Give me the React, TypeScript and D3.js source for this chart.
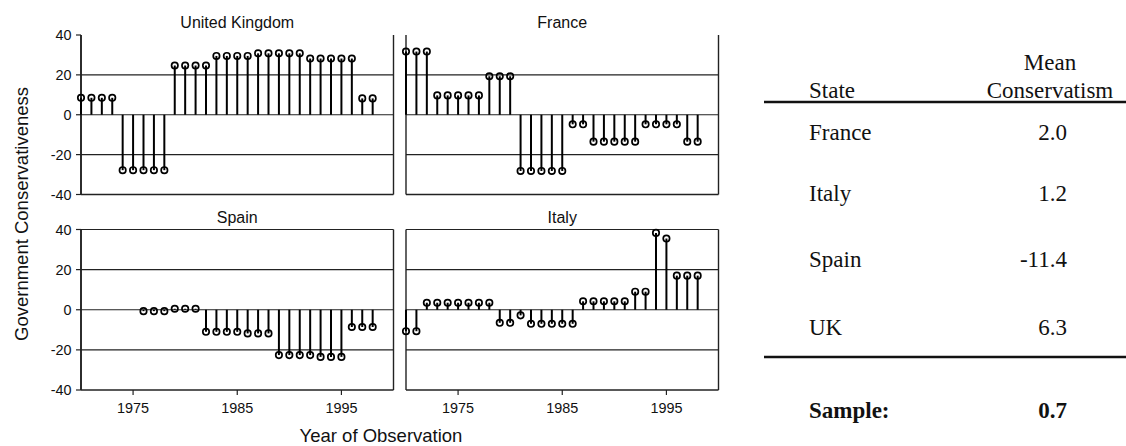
import React from "react";
import * as d3 from "d3";

// ---- data ----
const ukYears = d3.range(1970, 1999);
const ukValues = [8.5, 8.5, 8.5, 8.5, -27.8, -27.8, -27.8, -27.8, -27.8, 24.7, 24.7, 24.7, 24.7, 29.5, 29.5, 29.5, 29.5, 30.8, 30.8, 30.8, 30.8, 30.8, 28.2, 28.2, 28.2, 28.2, 28.2, 8.2, 8.2];

const franceYears = d3.range(1970, 1999);
const franceValues = [31.7, 31.7, 31.7, 9.7, 9.7, 9.7, 9.7, 9.7, 19.3, 19.3, 19.3, -28.2, -28.2, -28.2, -28.2, -28.2, -4.8, -4.8, -13.5, -13.5, -13.5, -13.5, -13.5, -4.8, -4.8, -4.8, -4.8, -13.5, -13.5];

const spainYears = d3.range(1976, 1999);
const spainValues = [-0.7, -0.7, -0.7, 0.5, 0.5, 0.5, -11, -11, -11, -11, -11.8, -11.8, -11.8, -22.6, -22.6, -22.6, -22.6, -23.5, -23.5, -23.5, -8.6, -8.6, -8.6];

const italyYears = d3.range(1970, 1999);
const italyValues = [-10.7, -10.7, 3.5, 3.5, 3.5, 3.5, 3.5, 3.5, 3.5, -6.5, -6.5, -2.8, -7, -7, -7, -7, -7, 4.2, 4.2, 4.2, 4.2, 4.2, 9, 9, 38.3, 35.5, 17, 17, 17];

const xTicks = [1975, 1985, 1995];
const yTicks = [40, 20, 0, -20, -40];

const tableStates = ["France", "Italy", "Spain", "UK"];
const tableMeans = ["2.0", "1.2", "-11.4", "6.3"];
const sampleLabel = "Sample:";
const sampleMean = "0.7";

// ---- layout ----
const W = 1126;
const H = 446;
const colX: [number, number][] = [[81, 393.5], [406, 718.5]];
const rowY: [number, number][] = [[35, 194.5], [229.5, 390]];

const panels = [
  { title: "United Kingdom", years: ukYears, values: ukValues, col: 0, row: 0 },
  { title: "France", years: franceYears, values: franceValues, col: 1, row: 0 },
  { title: "Spain", years: spainYears, values: spainValues, col: 0, row: 1 },
  { title: "Italy", years: italyYears, values: italyValues, col: 1, row: 1 },
];

const SANS = "'Liberation Sans', Arial, Helvetica, sans-serif";
const SERIF = "'Liberation Serif', 'Times New Roman', Times, serif";
const LINE = "#222";

function Panel({ p }: { p: (typeof panels)[number] }) {
  const [x0, x1] = colX[p.col];
  const [y0, y1] = rowY[p.row];
  const x = d3.scaleLinear().domain([1970, 2000]).range([x0, x1]);
  const y = d3.scaleLinear().domain([40, -40]).range([y0, y1]);
  const grid = p.row === 0 ? [20, 0, -20] : [40, 20, 0, -20];
  return (
    <g>
      <text x={(x0 + x1) / 2} y={p.row === 0 ? 28 : 223} textAnchor="middle" fontFamily={SANS} fontSize={16} fill="#111">
        {p.title}
      </text>
      {grid.map((g) => (
        <line key={g} x1={x0} x2={x1} y1={y(g)} y2={y(g)} stroke={LINE} strokeWidth={1.2} />
      ))}
      <line x1={x0} x2={x1} y1={y(-40)} y2={y(-40)} stroke={LINE} strokeWidth={1.6} />
      <line x1={x1} x2={x1} y1={y0} y2={y1} stroke={LINE} strokeWidth={1.4} />
      <line x1={x0} x2={x0} y1={y0} y2={y1} stroke={LINE} strokeWidth={p.col === 0 ? 1.9 : 1.4} />
      {p.col === 0 &&
        yTicks.map((t) => (
          <g key={t}>
            <line x1={x0 - 5} x2={x0} y1={y(t)} y2={y(t)} stroke={LINE} strokeWidth={1.2} />
            <text x={x0 - 9.5} y={y(t)} dy="0.36em" textAnchor="end" fontFamily={SANS} fontSize={14.4} fill="#111">
              {t}
            </text>
          </g>
        ))}
      {p.row === 1 &&
        xTicks.map((t) => (
          <g key={t}>
            <line x1={x(t)} x2={x(t)} y1={y1} y2={y1 + 5} stroke={LINE} strokeWidth={1.2} />
            <text x={x(t)} y={412.5} textAnchor="middle" fontFamily={SANS} fontSize={14.4} fill="#111">
              {t}
            </text>
          </g>
        ))}
      {p.values.map((v, i) => (
        <g key={i}>
          <line x1={x(p.years[i])} x2={x(p.years[i])} y1={y(0)} y2={y(v)} stroke="#000" strokeWidth={2} />
          <circle cx={x(p.years[i])} cy={y(v)} r={3.2} fill="none" stroke="#000" strokeWidth={1.7} />
        </g>
      ))}
    </g>
  );
}

export default function App() {
  const rowBase = [140, 201, 267, 335];
  return (
    <svg width={W} height={H} style={{ position: "absolute", left: 0, top: 0, display: "block", background: "#fff" }}>
      <rect x={0} y={0} width={W} height={H} fill="#fff" />
      {panels.map((p) => (
        <Panel key={p.title} p={p} />
      ))}
      <text x={381} y={441.5} textAnchor="middle" fontFamily={SANS} fontSize={18.5} fill="#111">
        Year of Observation
      </text>
      <text transform="translate(28,214) rotate(-90)" textAnchor="middle" fontFamily={SANS} fontSize={18.5} fill="#111">
        Government Conservativeness
      </text>

      <g fontFamily={SERIF} fontSize={23} fill="#111">
        <text x={1050} y={70} textAnchor="middle">Mean</text>
        <text x={1050} y={98} textAnchor="middle">Conservatism</text>
        <text x={809} y={98}>State</text>
        <line x1={764} x2={1126} y1={102} y2={102} stroke="#111" strokeWidth={2.6} />
        {tableStates.map((s, i) => (
          <g key={s}>
            <text x={809} y={rowBase[i]}>{s}</text>
            <text x={1067} y={rowBase[i]} textAnchor="end">{tableMeans[i]}</text>
          </g>
        ))}
        <line x1={764} x2={1126} y1={357} y2={357} stroke="#111" strokeWidth={2.6} />
        <text x={809} y={418} fontWeight="bold">{sampleLabel}</text>
        <text x={1067} y={418} fontWeight="bold" textAnchor="end">{sampleMean}</text>
      </g>
    </svg>
  );
}
